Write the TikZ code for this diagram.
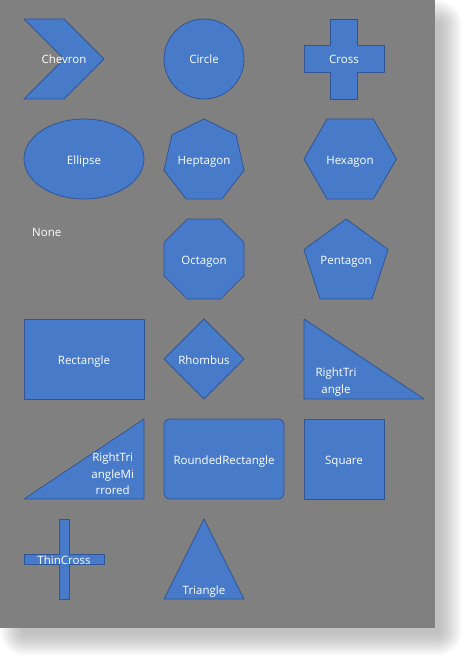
\documentclass[tikz,border=0pt]{standalone}
\usepackage{fontspec}
\setmainfont{Open Sans}
\usepackage{tikz}

\definecolor{panelgray}{HTML}{808080}
\definecolor{shapefill}{HTML}{477BC9}
\definecolor{shapeline}{HTML}{2F5597}

\begin{document}
\begin{tikzpicture}[x=1pt, y=-1pt,
  blueshape/.style={draw=shapeline, fill=shapefill, line width=0.8pt, line join=round},
  lbl/.style={text=white, font=\fontsize{11.5}{16.5}\selectfont, inner sep=0pt, align=center}]

\useasboundingbox (0,0) rectangle (465,658);

% soft shadow under the gray panel
\foreach \i in {0,...,22}
  {
    \fill[black, fill opacity=0.013, rounded corners=\i pt+3pt]
    (22-\i,22-\i) rectangle (440+\i,634+\i);
  }
\fill[panelgray] (0,0) rectangle (435,628);

%% row 1
\draw[blueshape] (24,19) -- (64,19) -- (104,59) -- (64,99) -- (24,99) -- (64,59) -- cycle;
\draw[blueshape] (204,59) circle [radius=40];
\draw[blueshape] (330.7,19) -- (357.3,19) -- (357.3,45.7) -- (384,45.7) -- (384,72.3)
 -- (357.3,72.3) -- (357.3,99) -- (330.7,99) -- (330.7,72.3) -- (304,72.3)
 -- (304,45.7) -- (330.7,45.7) -- cycle;

%% row 2
\draw[blueshape] (84,159) ellipse [x radius=60, y radius=40];
\draw[blueshape] (204,119) -- (236.1,134.8) -- (244,170.4) -- (221.8,199)
 -- (186.2,199) -- (164,170.4) -- (171.9,134.8) -- cycle;
\draw[blueshape] (304,159) -- (327.1,119) -- (373.3,119) -- (396.4,159)
 -- (373.3,199) -- (327.1,199) -- cycle;

%% row 3 (first cell has no shape)
\draw[blueshape] (187.4,219) -- (220.6,219) -- (244,242.4) -- (244,275.6)
 -- (220.6,299) -- (187.4,299) -- (164,275.6) -- (164,242.4) -- cycle;
\draw[blueshape] (346,219) -- (388.1,249.5) -- (372,299) -- (320,299)
 -- (303.9,249.5) -- cycle;

%% row 4
\draw[blueshape] (24,319) rectangle (144,399);
\draw[blueshape] (204,319) -- (244,359) -- (204,399) -- (164,359) -- cycle;
\draw[blueshape] (304,319) -- (424,399) -- (304,399) -- cycle;

%% row 5
\draw[blueshape] (144,419) -- (144,499) -- (24,499) -- cycle;
\draw[blueshape, rounded corners=6pt] (164,419) rectangle (284,499);
\draw[blueshape] (304,419) rectangle (384,499);

%% row 6
\draw[blueshape] (59,519) -- (69,519) -- (69,554) -- (104,554) -- (104,564)
 -- (69,564) -- (69,599) -- (59,599) -- (59,564) -- (24,564) -- (24,554)
 -- (59,554) -- cycle;
\draw[blueshape] (204,519) -- (244,599) -- (164,599) -- cycle;

% labels, placed by their baseline
\foreach \x/\y/\name/\txt in {64/59/chevron/Chevron, 204/59/circle/Circle,
  344/59/cross/Cross, 84/159/ellipse/Ellipse, 204/159/heptagon/Heptagon,
  350/159/hexagon/Hexagon, 204/259/octagon/Octagon, 346/259/pentagon/Pentagon,
  84/359/rectangle/Rectangle, 204/359/rhombus/Rhombus,
  224/459/roundedrect/RoundedRectangle, 344/459/square/Square,
  64/559/thincross/ThinCross, 204/589/triangle/Triangle}
  {
    \path (\x,\y) node [lbl, anchor=base, yshift=-5pt] (\name) {\txt};
  }
\path
(32,231) node [lbl, anchor=base west, yshift=-5pt] (none) {None}
(336,382) node [lbl] (righttri) {RightTri\\angle}
(112.7,474) node [lbl] (righttrimirr) {RightTri\\angleMi\\rrored};

\end{tikzpicture}
\end{document}
